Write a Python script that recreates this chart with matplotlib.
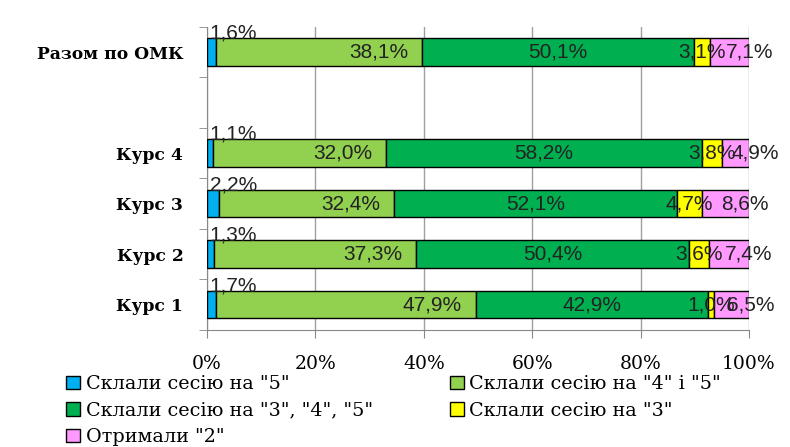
import matplotlib.pyplot as plt
import numpy as np

# data (percent) - rows from bottom to top, '' is the empty slot
categories = ['Курс 1', 'Курс 2', 'Курс 3', 'Курс 4', '', 'Разом по ОМК']
grade_5 = [1.7, 1.3, 2.2, 1.1, 0, 1.6]
grade_45 = [47.9, 37.3, 32.4, 32.0, 0, 38.1]
grade_345 = [42.9, 50.4, 52.1, 58.2, 0, 50.1]
grade_3 = [1.0, 3.6, 4.7, 3.8, 0, 3.1]
grade_2 = [6.5, 7.4, 8.6, 4.9, 0, 7.1]

series_names = ['Склали сесію на "5"', 'Склали сесію на "4" і "5"',
                'Склали сесію на "3", "4", "5"', 'Склали сесію на "3"',
                'Отримали "2"']
colours = ['#00b0f0', '#92d050', '#00b050', '#ffff00', '#ff99ff']

serif = 'DejaVu Serif'
label_font = 'Liberation Sans'

fig = plt.figure(figsize=(7.9, 4.47), dpi=100)
ax = fig.add_axes([0.262, 0.262, 0.686, 0.678])

ypos = np.arange(len(categories))
filled = [i for i, c in enumerate(categories) if c != '']
height = 0.54
series = [grade_5, grade_45, grade_345, grade_3, grade_2]
left = np.zeros(len(filled))
bars = []
for k, (vals, col, name) in enumerate(zip(series, colours, series_names)):
    vals = np.array([vals[i] for i in filled])
    y = ypos[filled]
    b = ax.barh(y, vals, left=left, height=height, color=col,
                edgecolor='black', linewidth=1, label=name, zorder=3)
    bars.append(b)
    for j, v in enumerate(vals):
        txt = ('%.1f%%' % v).replace('.', ',')
        style = dict(textcoords='offset points', fontsize=15, family=label_font,
                     color='#222222', zorder=5)
        if k == 0:
            # small blue values sit above the bar
            ax.annotate(txt, (left[j], y[j] + height / 2), xytext=(2, -3),
                        ha='left', va='bottom', **style)
        elif k == 1:
            ax.annotate(txt, (left[j] + v, y[j]), xytext=(-10, 0),
                        ha='right', va='center', **style)
        elif k == 4:
            ax.annotate(txt, (left[j] + v / 2, y[j]), xytext=(14, 0),
                        ha='center', va='center', **style)
        else:
            ax.annotate(txt, (left[j] + v / 2, y[j]), xytext=(0, 0),
                        ha='center', va='center', **style)
    left = left + vals

ax.set_xlim(0, 100)
ax.set_ylim(-0.5, len(categories) - 0.5)
ax.set_xticks(np.arange(0, 101, 20))
ax.set_xticklabels(['%d%%' % t for t in range(0, 101, 20)], family=serif, fontsize=13.5)
ax.set_yticks(ypos)
ax.set_yticklabels(categories, family=serif, fontsize=12.3, fontweight='bold')
ax.set_yticks(np.arange(-0.5, len(categories), 1), minor=True)
ax.tick_params(axis='y', which='major', length=0, pad=17)
ax.tick_params(axis='y', which='minor', length=6, color='#888888', direction='out')
ax.tick_params(axis='x', length=6, color='#888888', direction='out', pad=12)
ax.grid(axis='x', color='#a0a0a0', linewidth=1, zorder=0)
for s in ['top', 'right']:
    ax.spines[s].set_visible(False)
for s in ['left', 'bottom']:
    ax.spines[s].set_color('#888888')

order = [0, 2, 4, 1, 3]
leg = fig.legend([bars[i] for i in order], [series_names[i] for i in order],
                 loc='upper left', bbox_to_anchor=(0.084, 0.161), ncol=2,
                 frameon=False, prop={'family': serif, 'size': 13.8},
                 handlelength=0.7, handleheight=0.7, handletextpad=0.3,
                 columnspacing=4.05, labelspacing=0.45, borderaxespad=0, borderpad=0)

fig.savefig('out.png', dpi=100)
